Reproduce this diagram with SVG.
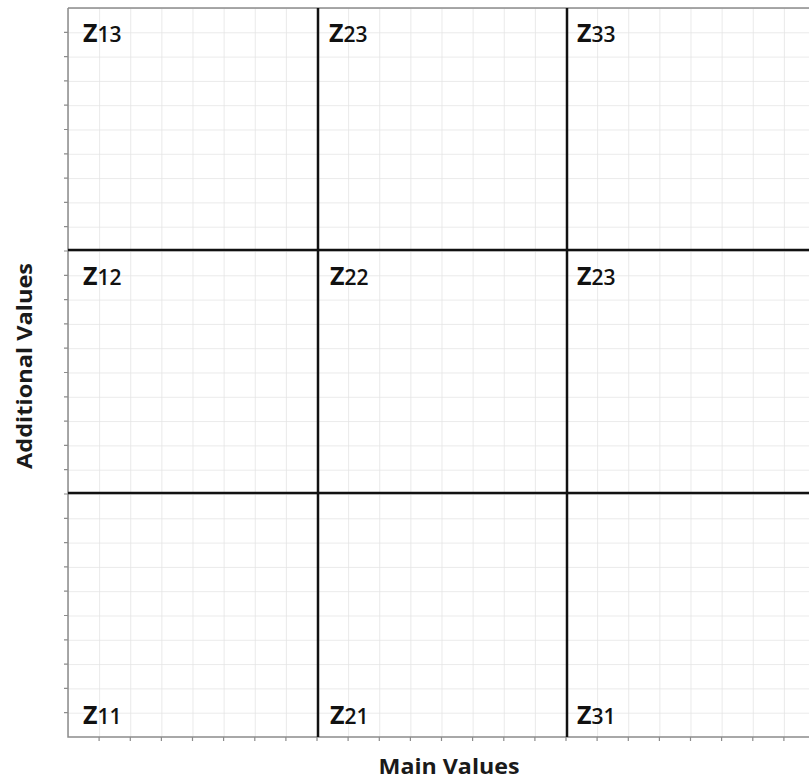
<svg xmlns="http://www.w3.org/2000/svg" width="809" height="781" viewBox="0 0 809 781">
  <style>
    .lbl { font-family: "Open Sans", "Liberation Sans", sans-serif; fill: #111; }
    .z { font-size: 25px; font-weight: bold; }
    .sub { font-size: 21px; font-weight: 600; }
    .axis { font-family: "Open Sans", "Liberation Sans", sans-serif; font-size: 21px; font-weight: bold; fill: #1a1a1a; }
    .major { stroke: #111; stroke-width: 2.5; fill: none; }
    .border { stroke: #8c8c8c; stroke-width: 1.5; fill: none; }
    .tick { stroke: #8c8c8c; stroke-width: 1.2; fill: none; }
  </style>
  <defs>
    <pattern id="grid" x="68" y="8" width="31.125" height="24.3" patternUnits="userSpaceOnUse">
      <path d="M0 0 V24.3 M0 0 H31.125" stroke="#e4e4e4" stroke-width="1.6" fill="none"/>
    </pattern>
  </defs>
  <rect width="809" height="781" fill="#ffffff"/>
  <rect x="68" y="8" width="741" height="729" fill="url(#grid)"/>

  <g id="axes">
    <path class="border" d="M68 8 H809 M68 8 V737 H809"/>
    <path class="tick" d="M64 32.3 H68 M64 56.6 H68 M64 80.9 H68 M64 105.2 H68 M64 129.5 H68 M64 153.8 H68 M64 178.1 H68 M64 202.4 H68 M64 226.7 H68 M64 251 H68 M64 275.3 H68 M64 299.6 H68 M64 323.9 H68 M64 348.2 H68 M64 372.5 H68 M64 396.8 H68 M64 421.1 H68 M64 445.4 H68 M64 469.7 H68 M64 494 H68 M64 518.3 H68 M64 542.6 H68 M64 566.9 H68 M64 591.2 H68 M64 615.5 H68 M64 639.8 H68 M64 664.1 H68 M64 688.4 H68 M64 712.7 H68"/>
    <path class="tick" d="M99.1 737 V741 M130.3 737 V741 M161.4 737 V741 M192.5 737 V741 M223.6 737 V741 M254.8 737 V741 M285.9 737 V741 M317 737 V741 M348.1 737 V741 M379.3 737 V741 M410.4 737 V741 M441.5 737 V741 M472.6 737 V741 M503.8 737 V741 M534.9 737 V741 M566 737 V741 M597.1 737 V741 M628.3 737 V741 M659.4 737 V741 M690.5 737 V741 M721.6 737 V741 M752.8 737 V741 M783.9 737 V741"/>
  </g>

  <g id="connectors">
    <line class="major" x1="318" y1="8" x2="318" y2="737"/>
    <line class="major" x1="567" y1="8" x2="567" y2="737"/>
    <line class="major" x1="68" y1="250" x2="809" y2="250"/>
    <line class="major" x1="68" y1="493" x2="809" y2="493"/>
  </g>

  <g id="cell-z13"><text class="lbl" x="83" y="42"><tspan class="z">Z</tspan><tspan class="sub">13</tspan></text></g>
  <g id="cell-z23-top"><text class="lbl" x="329" y="42"><tspan class="z">Z</tspan><tspan class="sub">23</tspan></text></g>
  <g id="cell-z33"><text class="lbl" x="577" y="42"><tspan class="z">Z</tspan><tspan class="sub">33</tspan></text></g>
  <g id="cell-z12"><text class="lbl" x="83" y="285"><tspan class="z">Z</tspan><tspan class="sub">12</tspan></text></g>
  <g id="cell-z22"><text class="lbl" x="330" y="285"><tspan class="z">Z</tspan><tspan class="sub">22</tspan></text></g>
  <g id="cell-z23-mid"><text class="lbl" x="577" y="285"><tspan class="z">Z</tspan><tspan class="sub">23</tspan></text></g>
  <g id="cell-z11"><text class="lbl" x="83" y="724"><tspan class="z">Z</tspan><tspan class="sub">11</tspan></text></g>
  <g id="cell-z21"><text class="lbl" x="330" y="724"><tspan class="z">Z</tspan><tspan class="sub">21</tspan></text></g>
  <g id="cell-z31"><text class="lbl" x="577" y="724"><tspan class="z">Z</tspan><tspan class="sub">31</tspan></text></g>

  <g id="x-axis-label"><text class="axis" x="449" y="774" text-anchor="middle" textLength="141" lengthAdjust="spacingAndGlyphs">Main Values</text></g>
  <g id="y-axis-label"><text class="axis" transform="translate(32 366) rotate(-90)" x="0" y="0" text-anchor="middle" textLength="206" lengthAdjust="spacingAndGlyphs">Additional Values</text></g>
</svg>
